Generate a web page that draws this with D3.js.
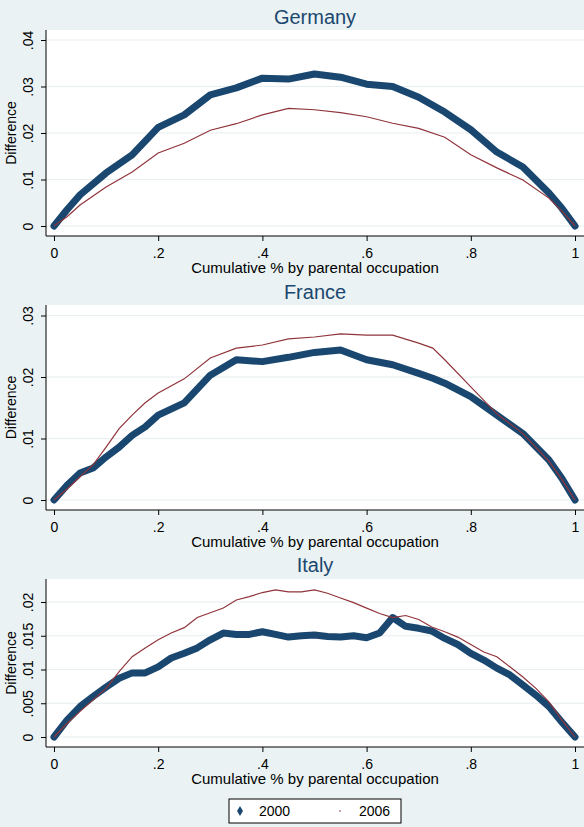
<!DOCTYPE html>
<html>
<head>
<meta charset="utf-8">
<script src="https://cdn.jsdelivr.net/npm/d3@7"></script>
<style>
  body { margin: 0; background: #eaf2f3; }
  text { font-family: "Liberation Sans", Arial, sans-serif; }
</style>
</head>
<body>
<div id="chart"></div>
<script>
'use strict';

// shares of cumulative parental occupation (x) per panel
const germanyX = [0, .025, .05, .1, .15, .2, .25, .3, .35, .4, .45, .5, .55, .6, .65, .7, .75, .8, .85, .9, .95, .975, 1];
const germany2000 = [0, .0035, .0067, .0114, .0153, .0212, .0239, .0282, .0297, .0318, .0316, .0327, .032, .0305, .030, .0277, .0245, .0207, .0159, .0127, .0071, .0038, 0];
const germany2006 = [0, .002, .0045, .0084, .0116, .0157, .0178, .0206, .022, .0239, .0253, .025, .0244, .0235, .0221, .021, .0191, .0153, .0125, .0099, .006, .0032, 0];

const franceX = [0, .025, .05, .075, .1, .125, .15, .175, .2, .25, .3, .35, .4, .45, .5, .55, .6, .65, .7, .727, .75, .8, .85, .9, .95, .975, 1];
const france2000 = [0, .0024, .0044, .0052, .007, .0086, .0105, .0119, .0138, .0158, .0203, .0228, .0225, .0232, .024, .0244, .0228, .022, .0206, .0198, .019, .0168, .0138, .0108, .0065, .0035, 0];
const france2006 = [0, .0018, .0038, .0057, .0086, .0116, .0138, .0158, .0174, .0197, .0231, .0247, .0252, .0262, .0265, .027, .0268, .0268, .0255, .0247, .0228, .0184, .014, .0108, .0063, .0033, 0];

const italyX = [0, .025, .05, .075, .1, .125, .15, .175, .2, .225, .25, .275, .3, .325, .35, .375, .4, .425, .45, .475, .5, .525, .55, .575, .6, .625, .65, .675, .7, .725, .75, .775, .8, .825, .85, .875, .9, .925, .95, .975, 1];
const italy2000 = [0, .0025, .0045, .006, .0074, .0087, .0095, .0095, .0104, .0117, .0124, .0132, .0144, .0154, .0152, .0152, .0156, .0152, .0148, .015, .0151, .0149, .0148, .015, .0147, .0154, .0177, .0164, .0161, .0157, .0146, .0137, .0124, .0114, .0102, .0092, .0077, .0062, .0045, .0022, 0];
const italy2006 = [0, .002, .0038, .0055, .0072, .0097, .0119, .0132, .0144, .0154, .0162, .0177, .0184, .0191, .0203, .0208, .0214, .0218, .0215, .0215, .0218, .0213, .0206, .0199, .0191, .0183, .0177, .018, .0174, .0163, .0156, .0148, .0137, .0126, .0119, .0104, .0089, .0072, .0052, .0025, 0];

const xTicks = [0, .2, .4, .6, .8, 1];
const xTickLabels = ["0", ".2", ".4", ".6", ".8", "1"];
const years = ["2000", "2006"];

const panels = [
    {name: "Germany", x: germanyX, s2000: germany2000, s2006: germany2006,
     yTicks: [0, .01, .02, .03, .04], yLabels: ["0", ".01", ".02", ".03", ".04"]},
    {name: "France", x: franceX, s2000: france2000, s2006: france2006,
     yTicks: [0, .01, .02, .03], yLabels: ["0", ".01", ".02", ".03"]},
    {name: "Italy", x: italyX, s2000: italy2000, s2006: italy2006,
     yTicks: [0, .005, .01, .015, .02], yLabels: ["0", ".005", ".01", ".015", ".02"]}
];

// layout of each panel (pixels)
const layout = [
    {titleY: 17, top: 30, bottom: 236, y0: 226, yMax: 40, yMaxVal: .04},
    {titleY: 292, top: 305, bottom: 510, y0: 500, yMax: 315.5, yMaxVal: .03},
    {titleY: 565, top: 579, bottom: 747, y0: 737, yMax: 602, yMaxVal: .02}
];

const W = 584, H = 827;
const axisX = 46;
const navy = "#1a476f", red = "#90353b";

const svg = d3.select("#chart").append("svg")
    .attr("width", W).attr("height", H);

svg.append("rect").attr("width", W).attr("height", H).attr("fill", "#eaf2f3");

const scaleX = d3.scaleLinear().domain([0, 1]).range([54, 575]);

panels.forEach((p, i) => {
    const L = layout[i];
    const scaleY = d3.scaleLinear().domain([0, L.yMaxVal]).range([L.y0, L.yMax]);
    const g = svg.append("g");

    // plot region
    g.append("rect")
        .attr("x", axisX).attr("y", L.top)
        .attr("width", W - axisX).attr("height", L.bottom - L.top)
        .attr("fill", "#ffffff");

    // grid lines
    g.selectAll(".grid").data(p.yTicks).enter().append("line")
        .attr("x1", axisX).attr("x2", W)
        .attr("y1", d => scaleY(d)).attr("y2", d => scaleY(d))
        .style("stroke", "#e6eef0").style("stroke-width", 1.2);

    // title
    g.append("text")
        .attr("x", 315).attr("y", L.titleY).attr("dy", "0.35em")
        .attr("text-anchor", "middle")
        .style("font-size", "20px").style("fill", navy)
        .text(p.name);

    // y axis
    const yAxis = d3.axisLeft(scaleY).tickValues(p.yTicks)
        .tickFormat((d, k) => p.yLabels[k]).tickSize(5).tickSizeOuter(0);
    const ya = g.append("g").attr("transform", `translate(${axisX},0)`).call(yAxis);
    ya.select(".domain").attr("d", `M0,${L.top}V${L.bottom}`).style("stroke", "#000");
    ya.selectAll(".tick line").style("stroke", "#000");
    ya.selectAll(".tick text")
        .attr("x", 0).attr("y", 0).attr("dy", 0)
        .attr("transform", "translate(-13,0) rotate(-90)")
        .attr("text-anchor", "middle")
        .style("font-size", "14px").style("font-family", "Liberation Sans, Arial, sans-serif")
        .style("fill", "#000");

    // x axis
    const xAxis = d3.axisBottom(scaleX).tickValues(xTicks)
        .tickFormat((d, k) => xTickLabels[k]).tickSize(5).tickSizeOuter(0);
    const xa = g.append("g").attr("transform", `translate(0,${L.bottom})`).call(xAxis);
    xa.select(".domain").attr("d", `M${axisX},0H${W}`).style("stroke", "#000");
    xa.selectAll(".tick line").style("stroke", "#000");
    xa.selectAll(".tick text")
        .attr("y", 17).attr("dy", "0.35em")
        .style("font-size", "14px").style("font-family", "Liberation Sans, Arial, sans-serif")
        .style("fill", "#000");

    // axis titles
    g.append("text")
        .attr("x", 315).attr("y", L.bottom + 32).attr("dy", "0.35em")
        .attr("text-anchor", "middle")
        .style("font-size", "15px").style("fill", "#000")
        .text("Cumulative % by parental occupation");

    g.append("text")
        .attr("transform", `translate(11,${(L.top + L.bottom) / 2}) rotate(-90)`)
        .attr("dy", "0.35em")
        .attr("text-anchor", "middle")
        .style("font-size", "14px").style("fill", "#000")
        .text("Difference");

    // series
    const line = d3.line()
        .x((d, k) => scaleX(p.x[k]))
        .y(d => scaleY(d));

    g.append("path")
        .attr("d", line(p.s2000))
        .style("fill", "none").style("stroke", navy)
        .style("stroke-width", 7).style("stroke-linejoin", "round").style("stroke-linecap", "round");

    g.append("path")
        .attr("d", line(p.s2006))
        .style("fill", "none").style("stroke", red)
        .style("stroke-width", 1.2);
});

// legend
const leg = svg.append("g");
leg.append("rect")
    .attr("x", 229).attr("y", 799).attr("width", 172).attr("height", 24)
    .attr("fill", "#ffffff").style("stroke", "#000").style("stroke-width", 1);

leg.append("path")
    .attr("d", d3.symbol(d3.symbolDiamond, 30)())
    .attr("transform", "translate(240,811)")
    .attr("fill", navy);
leg.append("circle")
    .attr("cx", 340).attr("cy", 811).attr("r", 0.8)
    .attr("fill", red);

leg.selectAll(".lt").data(years).enter().append("text")
    .attr("x", (d, k) => k === 0 ? 259 : 359)
    .attr("y", 811).attr("dy", "0.35em")
    .style("font-size", "14px").style("fill", "#000")
    .text(d => d);
</script>
</body>
</html>
